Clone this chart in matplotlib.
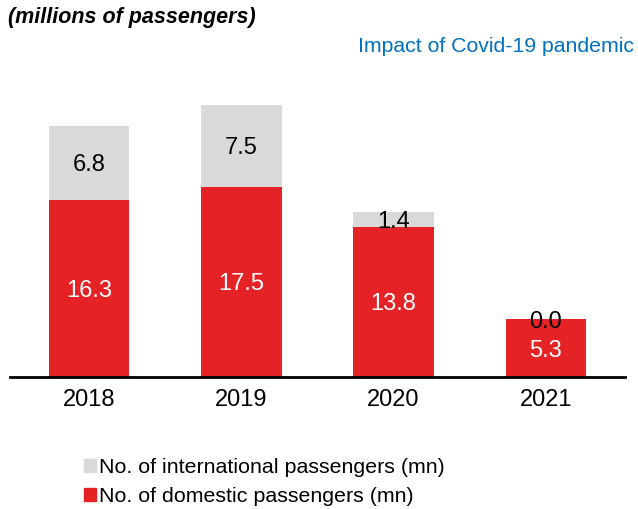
import matplotlib
matplotlib.use('Agg')
import matplotlib.pyplot as plt
import matplotlib.patches as mpatches

plt.rcParams['font.family'] = ['Liberation Sans', 'DejaVu Sans']

years         = ['2018', '2019', '2020', '2021']
domestic      = [16.3, 17.5, 13.8, 5.3]
international = [6.8, 7.5, 1.4, 0.0]

RED  = '#E52226'
GREY = '#D9D9D9'
BLUE = '#0070C0'

fig = plt.figure(figsize=(6.38, 5.09), dpi=100)
ax = fig.add_axes([10 / 638, 132 / 509, 615 / 638, 297 / 509])

x = list(range(len(years)))
ax.bar(x, domestic, width=0.53, color=RED, zorder=2)
ax.bar(x, international, width=0.53, bottom=domestic, color=GREY, zorder=2)

for xi, d, i in zip(x, domestic, international):
    ax.text(xi, d / 2, f'{d:.1f}', ha='center', va='center_baseline',
            fontsize=17, color='white', zorder=3)
    yi = d + i / 2 if i > 0.5 else d
    ax.text(xi, yi, f'{i:.1f}', ha='center', va='center_baseline',
            fontsize=17, color='black', zorder=3)

ax.set_xlim(-0.52, 3.52)
ax.set_ylim(0, 27.3)
ax.set_xticks(x)
ax.set_xticklabels(years, fontsize=17)
ax.tick_params(axis='x', length=0, pad=9)
ax.set_yticks([])
for s in ['top', 'right', 'left']:
    ax.spines[s].set_visible(False)
ax.spines['bottom'].set_linewidth(2)
ax.spines['bottom'].set_color('black')

fig.text(8 / 638, 1 - 18 / 509, '(millions of passengers)', ha='left', va='center',
         fontsize=15.5, fontweight='bold', style='italic')
fig.text(634 / 638, 1 - 46 / 509, 'Impact of Covid-19 pandemic', ha='right',
         va='center', fontsize=15.3, color=BLUE)

handles = [mpatches.Patch(color=GREY, label='No. of international passengers (mn)'),
           mpatches.Patch(color=RED, label='No. of domestic passengers (mn)')]
fig.legend(handles=handles, loc='upper left', bbox_to_anchor=(84 / 638, 1 - 458 / 509),
           frameon=False, fontsize=15.4, handlelength=0.55, handleheight=0.55,
           handletextpad=0.15, labelspacing=0.45, borderaxespad=0, borderpad=0)

fig.savefig('out.png', dpi=100)
